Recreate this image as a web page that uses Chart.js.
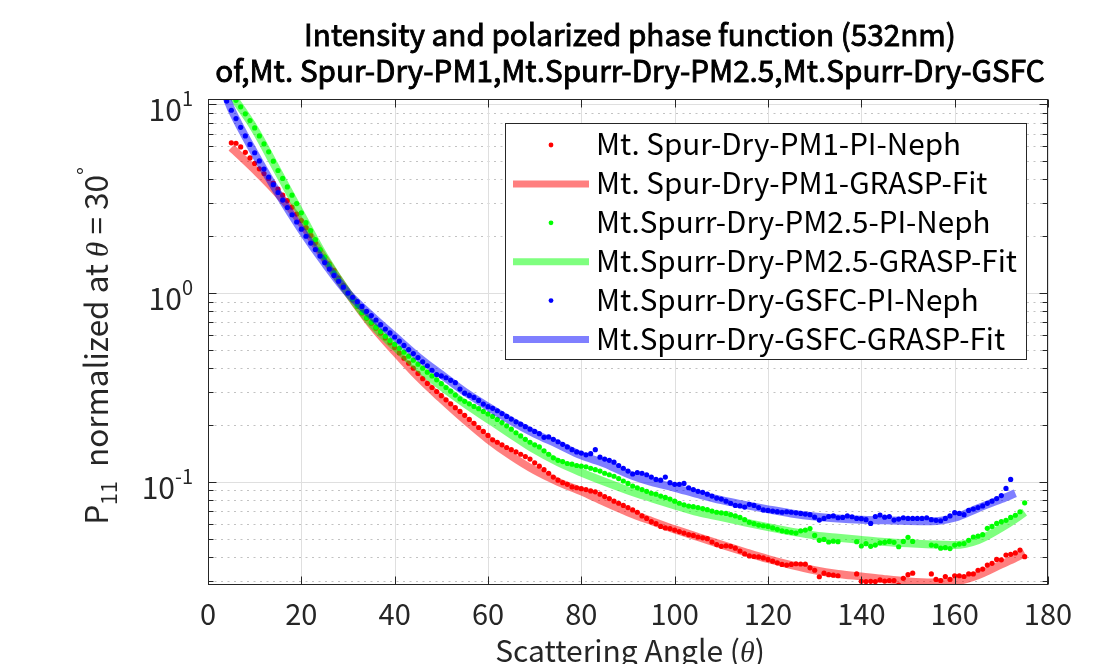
<!DOCTYPE html>
<html lang="en">

<head>
    <meta charset="UTF-8">
    <title>Intensity and polarized phase function (532nm)</title>
    <script src="https://cdn.jsdelivr.net/npm/chart.js"></script>
    <style>
        body { margin: 0; background: #fff; }
    </style>
</head>

<body>
    <canvas id="phaseChart" width="1119" height="664"></canvas>
    <script>
        // scattering angles of the PI-Neph points (deg)
        const angles = [
            4, 5, 6, 7, 8, 9, 10, 11, 12, 13,
            14, 15, 16, 17, 18, 19, 20, 21, 22, 23,
            24, 25, 26, 27, 28, 29, 30, 31, 32, 33,
            34, 35, 36, 37, 38, 39, 40, 41, 42, 43,
            44, 45, 46, 47, 48, 49, 50, 51, 52, 53,
            54, 55, 56, 57, 58, 59, 60, 61, 62, 63,
            64, 65, 66, 67, 68, 69, 70, 71, 72, 73,
            74, 75, 76, 77, 78, 79, 80, 81, 82, 83,
            84, 85, 86, 87, 88, 89, 90, 91, 92, 93,
            94, 95, 96, 97, 98, 99, 100, 101, 102, 103,
            104, 105, 106, 107, 108, 109, 110, 111, 112, 113,
            114, 115, 116, 117, 118, 119, 120, 121, 122, 123,
            124, 125, 126, 127, 128, 129, 130, 131, 132, 133,
            134, 135, 136, 137, 138, 139, 140, 141, 142, 143,
            144, 145, 146, 147, 148, 149, 150, 151, 152, 153,
            154, 155, 156, 157, 158, 159, 160, 161, 162, 163,
            164, 165, 166, 167, 168, 169, 170, 171, 172, 173,
            174, 175
        ];

        const pm1Neph = [
            null, 6.25, 6.22, 5.95, 5.57, 5.2, 4.86, 4.55, 4.3, 4.05,
            3.82, 3.55, 3.3, 3.09, 2.85, 2.62, 2.42, 2.22, 2.02, 1.84,
            1.68, 1.55, 1.43, 1.32, 1.2, 1.1, 1.0, 0.92, 0.85, 0.785,
            0.735, 0.692, 0.652, 0.614, 0.578, 0.545, 0.514, 0.482, 0.452, 0.425,
            0.4, 0.375, 0.352, 0.332, 0.316, 0.301, 0.286, 0.272, 0.259, 0.247,
            0.236, 0.225, 0.214, 0.204, 0.194, 0.185, 0.176, 0.167, 0.162, 0.157,
            0.152, 0.148, 0.144, 0.14, 0.136, 0.132, 0.126, 0.121, 0.116, 0.111,
            0.106, 0.102, 0.099, 0.097, 0.094, 0.093, 0.092, 0.091, 0.0895, 0.0885,
            0.086, 0.0835, 0.0815, 0.079, 0.077, 0.075, 0.073, 0.071, 0.069, 0.066,
            0.064, 0.0615, 0.06, 0.058, 0.057, 0.0565, 0.0555, 0.0545, 0.0535, 0.0525,
            0.052, 0.051, 0.0505, 0.05, 0.048, 0.0465, 0.0455, 0.0458, 0.0455, 0.0445,
            0.043, 0.0415, 0.0405, 0.0402, 0.04, 0.0395, 0.0388, 0.038, 0.0372, 0.0365,
            0.0362, 0.0365, 0.0368, 0.0367, 0.0366, 0.035, 0.034, 0.0314, 0.0328, 0.0322,
            0.032, 0.0318, null, null, null, 0.0325, 0.0297, 0.0296, 0.0297, 0.0296,
            0.0302, 0.0298, 0.03, 0.03, 0.0284, 0.0308, 0.0322, 0.0328, null, null,
            null, 0.0325, 0.0304, 0.03, 0.0315, 0.0304, 0.0318, 0.0318, 0.0315, 0.0325,
            0.0325, 0.034, 0.0345, 0.0362, 0.037, 0.0388, 0.0386, 0.0409, 0.0413, 0.042,
            0.0435, 0.0401
        ];

        const pm25Neph = [
            null, null, 10.5, 9.7, 8.9, 8.2, 7.5, 6.8, 6.17, 5.6,
            5.0, 4.46, 4.05, 3.65, 3.3, 2.98, 2.66, 2.36, 2.14, 1.92,
            1.7, 1.55, 1.41, 1.28, 1.17, 1.08, 1.0, 0.93, 0.855, 0.79,
            0.74, 0.7, 0.66, 0.625, 0.59, 0.56, 0.535, 0.51, 0.486, 0.463,
            0.441, 0.42, 0.4, 0.381, 0.364, 0.347, 0.331, 0.316, 0.302, 0.288,
            0.275, 0.267, 0.259, 0.251, 0.244, 0.236, 0.229, 0.222, 0.214, 0.206,
            0.198, 0.19, 0.182, 0.175, 0.168, 0.162, 0.157, 0.153, 0.146, 0.14,
            0.134, 0.13, 0.128, 0.125, 0.124, 0.122, 0.121, 0.12, 0.118, 0.116,
            0.114, 0.111, 0.109, 0.107, 0.104, 0.101, 0.098, 0.095, 0.093, 0.091,
            0.089, 0.087, 0.086, 0.084, 0.0827, 0.081, 0.079, 0.077, 0.0755, 0.0744,
            0.0738, 0.073, 0.0722, 0.0712, 0.07, 0.069, 0.0685, 0.068, 0.067, 0.066,
            0.0648, 0.063, 0.061, 0.06, 0.059, 0.0585, 0.058, 0.057, 0.056, 0.055,
            0.0544, 0.054, 0.0535, 0.055, 0.0555, 0.0565, 0.052, 0.049, 0.0495, 0.048,
            0.0485, 0.0482, null, null, null, 0.0482, 0.0457, 0.047, 0.0455, 0.0462,
            0.0475, 0.0478, 0.0483, 0.0478, 0.0453, 0.0483, 0.0508, 0.0483, null, null,
            null, 0.0462, 0.0458, 0.0445, 0.0448, 0.0443, 0.0462, 0.0468, 0.0471, 0.049,
            0.051, 0.0515, 0.0525, 0.0567, 0.058, 0.0602, 0.0615, 0.0625, 0.0648, 0.0665,
            0.0694, 0.0774
        ];

        const gsfcNeph = [
            10.4, 9.3, 8.4, 7.55, 6.8, 6.13, 5.54, 5.01, 4.54, 4.12,
            3.75, 3.41, 3.11, 2.84, 2.6, 2.38, 2.18, 2.0, 1.84, 1.7,
            1.57, 1.45, 1.34, 1.24, 1.155, 1.074, 1.0, 0.95, 0.9, 0.85,
            0.8, 0.76, 0.72, 0.68, 0.645, 0.615, 0.585, 0.556, 0.528, 0.502,
            0.478, 0.455, 0.432, 0.412, 0.39, 0.37, 0.364, 0.356, 0.345, 0.335,
            0.31, 0.295, 0.287, 0.28, 0.27, 0.258, 0.25, 0.245, 0.238, 0.23,
            0.222, 0.215, 0.208, 0.202, 0.196, 0.19, 0.185, 0.18, 0.172, 0.173,
            0.168, 0.163, 0.158, 0.153, 0.148, 0.144, 0.142, 0.139, 0.141, 0.148,
            0.135, 0.132, 0.13, 0.127, 0.122, 0.118, 0.114, 0.11, 0.112, 0.111,
            0.109, 0.106, 0.103, 0.102, 0.106, 0.099, 0.097, 0.097, 0.098, 0.093,
            0.091, 0.089, 0.088, 0.086, 0.084, 0.082, 0.081, 0.079, 0.077, 0.075,
            0.0745, 0.0735, 0.076, 0.075, 0.073, 0.071, 0.0705, 0.07, 0.0695, 0.069,
            0.0694, 0.069, 0.0685, 0.068, 0.0675, 0.067, 0.065, 0.0627, 0.064, 0.0655,
            0.066, 0.0645, 0.0648, 0.066, 0.0653, 0.064, 0.0638, 0.063, 0.0602, 0.0655,
            0.0667, 0.065, 0.0655, 0.0627, 0.0635, 0.0645, 0.064, 0.064, 0.064, 0.064,
            0.0645, 0.063, 0.0625, 0.0622, 0.064, 0.066, 0.0686, 0.068, 0.067, 0.0705,
            0.0717, 0.073, 0.0745, 0.0769, 0.079, 0.0815, 0.0845, 0.0922, 0.103, null,
            null, null
        ];

        // GRASP fits
        const fitAngles = [4, 5, 10, 15, 20, 25, 30, 35, 40, 45, 50, 55, 60, 65, 70, 75, 80, 85, 90,
            95, 100, 105, 110, 115, 120, 125, 130, 135, 140, 145, 150, 155, 160, 165, 170, 173, 175];
        const pm1Fit = [null, 5.9, 4.5, 3.35, 2.35, 1.52, 1.0, 0.68, 0.49, 0.36, 0.275, 0.213, 0.168, 0.137, 0.115,
            0.1, 0.089, 0.078, 0.069, 0.062, 0.056, 0.051, 0.0465, 0.0425, 0.039, 0.0362, 0.034, 0.0325,
            0.0315, 0.0305, 0.0297, 0.0293, 0.0296, 0.032, 0.0365, 0.0395, 0.042];
        const pm25Fit = [null, 11.3, 7.4, 4.4, 2.6, 1.55, 1.0, 0.69, 0.52, 0.405, 0.32, 0.26, 0.215, 0.178, 0.148,
            0.127, 0.112, 0.1, 0.09, 0.082, 0.075, 0.069, 0.065, 0.061, 0.0575, 0.0545, 0.052, 0.0505,
            0.0492, 0.048, 0.0472, 0.0466, 0.0462, 0.049, 0.057, 0.0635, 0.069];
        const gsfcFit = [10.8, 9.4, 5.5, 3.38, 2.16, 1.44, 1.0, 0.76, 0.59, 0.46, 0.37, 0.3, 0.25, 0.21, 0.18,
            0.158, 0.138, 0.125, 0.11, 0.1, 0.093, 0.086, 0.08, 0.0755, 0.0715, 0.068, 0.0655, 0.064,
            0.063, 0.0625, 0.062, 0.0618, 0.0645, 0.0725, 0.081, 0.087, null];

        const xTicks = [0, 20, 40, 60, 80, 100, 120, 140, 160, 180];
        const yTicks = [0.1, 1, 10];
        const yTickExp = ['-1', '0', '1'];
        const titleLines = [
            'Intensity and polarized phase function (532nm)',
            'of,Mt. Spur-Dry-PM1,Mt.Spurr-Dry-PM2.5,Mt.Spurr-Dry-GSFC'
        ];

        const FONT = '"Noto Sans CJK SC", "Noto Sans", sans-serif';
        const GREEK = '"Liberation Serif", "DejaVu Serif", serif';
        const AX = '#262626';

        function pts(xs, ys) {
            return xs.map((a, i) => ({ x: a, y: ys[i] }));
        }

        function dots(label, ys, color, order) {
            return {
                label, data: pts(angles, ys), showLine: false, order, clip: 0,
                backgroundColor: color, borderColor: color,
                pointRadius: 2.6, pointBorderWidth: 0, pointHoverRadius: 2.6
            };
        }

        function fit(label, ys, color, order) {
            return {
                label, data: pts(fitAngles, ys), showLine: true, order, clip: 0,
                borderColor: color, backgroundColor: color, borderWidth: 8,
                pointRadius: 0, cubicInterpolationMode: 'monotone', fill: false
            };
        }

        function fitFont(ctx, text, width, weight) {
            ctx.font = `${weight} 100px ${FONT}`;
            return 100 * width / ctx.measureText(text).width;
        }

        function seg(ctx, x, y1, x2, y2) {
            ctx.beginPath();
            ctx.moveTo(x, y1);
            ctx.lineTo(x2, y2);
            ctx.stroke();
        }

        // draws runs of [text, size, shift, fontFamily/style] one after another
        function runs(ctx, parts, x0, y0) {
            let sx = x0;
            parts.forEach(p => {
                ctx.font = p[3];
                ctx.fillText(p[0], sx, y0 + p[2]);
                sx += ctx.measureText(p[0]).width;
            });
        }

        function runsWidth(ctx, parts) {
            return parts.reduce((w, p) => { ctx.font = p[3]; return w + ctx.measureText(p[0]).width; }, 0);
        }

        const axesPlugin = {
            id: 'matlabAxes',
            beforeDatasetsDraw(chart) {
                const { ctx, chartArea: a, scales: { x, y } } = chart;
                ctx.save();
                ctx.lineWidth = 1;
                // dotted minor grid on the log axis
                ctx.strokeStyle = '#c2c2c2';
                ctx.setLineDash([2, 4.5]);
                for (let n = -2; n <= 1; n++) {
                    for (let k = 2; k <= 9; k++) {
                        const v = k * Math.pow(10, n);
                        if (v < y.min || v > y.max) continue;
                        const py = Math.round(y.getPixelForValue(v)) + 0.5;
                        seg(ctx, a.left, py, a.right, py);
                    }
                }
                ctx.setLineDash([]);
                ctx.strokeStyle = '#dfdfdf';
                xTicks.forEach(t => {
                    const px = Math.round(x.getPixelForValue(t)) + 0.5;
                    seg(ctx, px, a.top, px, a.bottom);
                });
                yTicks.forEach(t => {
                    const py = Math.round(y.getPixelForValue(t)) + 0.5;
                    seg(ctx, a.left, py, a.right, py);
                });
                ctx.restore();
            },
            afterDatasetsDraw(chart) {
                const { ctx, chartArea: a, scales: { x, y } } = chart;
                const L = a.left + 0.5, R = a.right - 0.5, T = a.top + 0.5, B = a.bottom - 0.5;
                ctx.save();
                ctx.strokeStyle = AX;
                ctx.lineWidth = 1;
                ctx.strokeRect(L, T, R - L, B - T);

                // tick marks, pointing inward on all four sides
                xTicks.forEach(t => {
                    const px = Math.round(x.getPixelForValue(t)) + 0.5;
                    seg(ctx, px, B, px, B - 8);
                    seg(ctx, px, T, px, T + 8);
                });
                for (let n = -2; n <= 1; n++) {
                    for (let k = 1; k <= 9; k++) {
                        const v = k * Math.pow(10, n);
                        if (v < y.min || v > y.max) continue;
                        const py = Math.round(y.getPixelForValue(v)) + 0.5;
                        const len = k === 1 ? 8 : 5;
                        seg(ctx, L, py, L + len, py);
                        seg(ctx, R, py, R - len, py);
                    }
                }

                // tick labels
                ctx.fillStyle = AX;
                ctx.textBaseline = 'alphabetic';
                ctx.textAlign = 'center';
                ctx.font = `29px ${FONT}`;
                xTicks.forEach(t => ctx.fillText(String(t), x.getPixelForValue(t), a.bottom + 40));
                yTicks.forEach((t, i) => {
                    const py = y.getPixelForValue(t);
                    ctx.font = `20px ${FONT}`;
                    const ew = ctx.measureText(yTickExp[i]).width;
                    ctx.textAlign = 'left';
                    ctx.fillText(yTickExp[i], 193 - ew, py + 2);
                    ctx.font = `30px ${FONT}`;
                    ctx.textAlign = 'right';
                    ctx.fillText('10', 193 - ew, py + 17);
                });

                // x axis title
                ctx.textAlign = 'left';
                const xParts = [
                    ['Scattering Angle (', 30, 0, `30px ${FONT}`],
                    ['θ', 30, 0, `italic 30px ${GREEK}`],
                    [')', 30, 0, `30px ${FONT}`]
                ];
                runs(ctx, xParts, (a.left + a.right) / 2 + 2 - runsWidth(ctx, xParts) / 2, 662);

                // y axis title, rotated
                const ys = 31.5;
                const yParts = [
                    ['P', ys, 0, `${ys}px ${FONT}`],
                    ['11', ys, 9, `${ys * 0.68}px ${FONT}`],
                    ['  normalized at ', ys, 0, `${ys}px ${FONT}`],
                    ['θ', ys, 0, `italic ${ys}px ${GREEK}`],
                    [' = 30', ys, 0, `${ys}px ${FONT}`],
                    ['°', ys, -15, `${ys * 0.68}px ${FONT}`]
                ];
                ctx.translate(108, 346);
                ctx.rotate(-Math.PI / 2);
                runs(ctx, yParts, -runsWidth(ctx, yParts) / 2, 0);
                ctx.setTransform(1, 0, 0, 1, 0, 0);

                // title (regular face thickened a little)
                ctx.fillStyle = '#000';
                ctx.strokeStyle = '#000';
                ctx.lineWidth = 0.9;
                ctx.textAlign = 'center';
                const ts = fitFont(ctx, titleLines[0], 652, 'normal');
                ctx.font = `${ts}px ${FONT}`;
                titleLines.forEach((t, i) => {
                    ctx.fillText(t, 630, 46 + i * 36);
                    ctx.strokeText(t, 630, 46 + i * 36);
                });

                // legend box
                const lg = { left: 505.5, top: 123.5, right: 1026.5, bottom: 359.5 };
                ctx.lineWidth = 1;
                ctx.fillStyle = '#fff';
                ctx.fillRect(lg.left, lg.top, lg.right - lg.left, lg.bottom - lg.top);
                ctx.strokeStyle = AX;
                ctx.strokeRect(lg.left, lg.top, lg.right - lg.left, lg.bottom - lg.top);
                const ls = fitFont(ctx, 'Mt.Spurr-Dry-PM2.5-GRASP-Fit', 421, 'normal');
                ctx.textAlign = 'left';
                chart.data.datasets.forEach((ds, i) => {
                    const base = 155 + i * 38.9;
                    const mid = base - 10;
                    if (ds.showLine) {
                        ctx.strokeStyle = ds.borderColor;
                        ctx.lineWidth = 7;
                        seg(ctx, 513, mid, 589, mid);
                    } else {
                        ctx.fillStyle = ds.backgroundColor;
                        ctx.beginPath();
                        ctx.arc(551, mid, 2.4, 0, Math.PI * 2);
                        ctx.fill();
                    }
                    ctx.fillStyle = '#000';
                    ctx.font = `${ls}px ${FONT}`;
                    ctx.fillText(ds.label, 596, base);
                });
                ctx.restore();
            }
        };

        function renderChart() {
            const ctx = document.getElementById('phaseChart').getContext('2d');
            new Chart(ctx, {
                type: 'scatter',
                data: {
                    datasets: [
                        dots('Mt. Spur-Dry-PM1-PI-Neph', pm1Neph, '#ff0000', 6),
                        fit('Mt. Spur-Dry-PM1-GRASP-Fit', pm1Fit, 'rgba(255, 0, 0, 0.5)', 5),
                        dots('Mt.Spurr-Dry-PM2.5-PI-Neph', pm25Neph, '#00ff00', 4),
                        fit('Mt.Spurr-Dry-PM2.5-GRASP-Fit', pm25Fit, 'rgba(0, 255, 0, 0.5)', 3),
                        dots('Mt.Spurr-Dry-GSFC-PI-Neph', gsfcNeph, '#0000ff', 2),
                        fit('Mt.Spurr-Dry-GSFC-GRASP-Fit', gsfcFit, 'rgba(0, 0, 255, 0.5)', 1)
                    ]
                },
                options: {
                    responsive: false,
                    animation: false,
                    devicePixelRatio: 1,
                    layout: { padding: { left: 208, right: 71, top: 99, bottom: 79 } },
                    plugins: {
                        legend: { display: false },
                        title: { display: false },
                        tooltip: { enabled: false }
                    },
                    scales: {
                        x: { type: 'linear', min: 0, max: 180, display: false },
                        y: { type: 'logarithmic', min: 0.0284, max: 10.67, display: false }
                    }
                },
                plugins: [axesPlugin]
            });
        }

        document.addEventListener('DOMContentLoaded', renderChart);
    </script>
</body>

</html>
